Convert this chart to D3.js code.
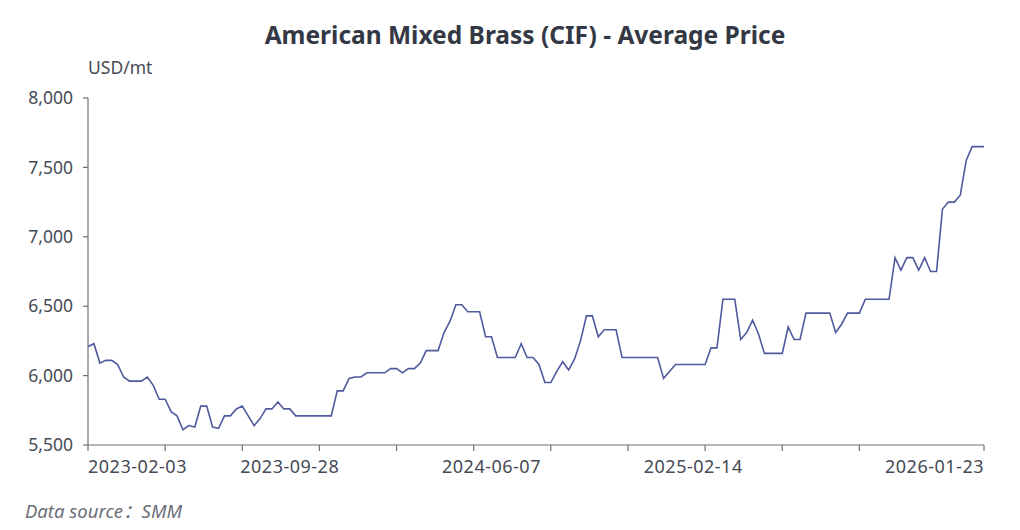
<!DOCTYPE html>
<html>
<head>
<meta charset="utf-8">
<script src="https://cdn.jsdelivr.net/npm/d3@7/dist/d3.min.js"></script>
<style>
  html, body { margin: 0; padding: 0; background: #fff; }
  svg { display: block; font-family: "Noto Sans", "Open Sans", sans-serif; }
  .title { font-size: 24.5px; font-weight: 700; fill: #333844; }
  .unit { font-size: 17.5px; fill: #464a55; }
  .tick-label { font-size: 17.5px; fill: #464a55; }
  .x-label { font-size: 18px; letter-spacing: 0.5px; fill: #464a55; }
  .source { font-size: 18.5px; font-style: italic; fill: #6c6f78; }
  .axis-line { stroke: #6e7079; stroke-width: 1.2; fill: none; }
  .price-line { stroke: #4f5a9e; stroke-width: 1.6; fill: none; }
</style>
</head>
<body>
<svg id="chart" width="1020" height="530"></svg>
<script>
(function () {
  'use strict';

  const W = 1020;
  const H = 530;
  const M = { left: 88, right: 36, top: 98, bottom: 85 };

  const TITLE = 'American Mixed Brass (CIF) - Average Price';
  const UNIT = 'USD/mt';

  // weekly quote dates (holiday weeks shifted or missing)
  const dates = [
    '2023-02-03', '2023-02-10', '2023-02-17', '2023-02-24', '2023-03-03', '2023-03-10', '2023-03-17', '2023-03-24',
    '2023-03-31', '2023-04-07', '2023-04-14', '2023-04-21', '2023-04-28', '2023-05-05', '2023-05-12', '2023-05-19',
    '2023-05-26', '2023-06-02', '2023-06-09', '2023-06-16', '2023-06-21', '2023-06-30', '2023-07-07', '2023-07-14',
    '2023-07-21', '2023-07-28', '2023-08-04', '2023-08-11', '2023-08-18', '2023-08-25', '2023-09-01', '2023-09-08',
    '2023-09-15', '2023-09-22', '2023-09-28', '2023-10-13', '2023-10-20', '2023-10-27', '2023-11-03', '2023-11-10',
    '2023-11-17', '2023-11-24', '2023-12-01', '2023-12-08', '2023-12-15', '2023-12-22', '2023-12-29', '2024-01-05',
    '2024-01-12', '2024-01-19', '2024-01-26', '2024-02-02', '2024-02-09', '2024-02-23', '2024-03-01', '2024-03-08',
    '2024-03-15', '2024-03-22', '2024-03-29', '2024-04-03', '2024-04-12', '2024-04-19', '2024-04-26', '2024-04-30',
    '2024-05-10', '2024-05-17', '2024-05-24', '2024-05-31', '2024-06-07', '2024-06-14', '2024-06-21', '2024-06-28',
    '2024-07-05', '2024-07-12', '2024-07-19', '2024-07-26', '2024-08-02', '2024-08-09', '2024-08-16', '2024-08-23',
    '2024-08-30', '2024-09-06', '2024-09-13', '2024-09-20', '2024-09-27', '2024-10-11', '2024-10-18', '2024-10-25',
    '2024-11-01', '2024-11-08', '2024-11-15', '2024-11-22', '2024-11-29', '2024-12-06', '2024-12-13', '2024-12-20',
    '2024-12-27', '2025-01-03', '2025-01-10', '2025-01-17', '2025-01-24', '2025-02-07', '2025-02-14', '2025-02-21',
    '2025-02-28', '2025-03-07', '2025-03-14', '2025-03-21', '2025-03-28', '2025-04-03', '2025-04-11', '2025-04-18',
    '2025-04-25', '2025-04-30', '2025-05-09', '2025-05-16', '2025-05-23', '2025-05-30', '2025-06-06', '2025-06-13',
    '2025-06-20', '2025-06-27', '2025-07-04', '2025-07-11', '2025-07-18', '2025-07-25', '2025-08-01', '2025-08-08',
    '2025-08-15', '2025-08-22', '2025-08-29', '2025-09-05', '2025-09-12', '2025-09-19', '2025-09-26', '2025-09-30',
    '2025-10-10', '2025-10-17', '2025-10-24', '2025-10-31', '2025-11-07', '2025-11-14', '2025-11-21', '2025-11-28',
    '2025-12-05', '2025-12-12', '2025-12-19', '2025-12-26', '2026-01-02', '2026-01-09', '2026-01-16', '2026-01-23'
  ];

  const prices = [
    6210, 6230, 6090, 6110, 6110, 6080, 5990, 5960,
    5960, 5960, 5990, 5930, 5830, 5830, 5740, 5710,
    5610, 5640, 5630, 5780, 5780, 5630, 5620, 5710,
    5710, 5760, 5780, 5710, 5640, 5690, 5760, 5760,
    5810, 5760, 5760, 5710, 5710, 5710, 5710, 5710,
    5710, 5710, 5890, 5890, 5980, 5990, 5990, 6020,
    6020, 6020, 6020, 6050, 6050, 6020, 6050, 6050,
    6090, 6180, 6180, 6180, 6310, 6390, 6510, 6510,
    6460, 6460, 6460, 6280, 6280, 6130, 6130, 6130,
    6130, 6230, 6130, 6130, 6080, 5950, 5950, 6030,
    6100, 6040, 6120, 6250, 6430, 6430, 6280, 6330,
    6330, 6330, 6130, 6130, 6130, 6130, 6130, 6130,
    6130, 5980, 6030, 6080, 6080, 6080, 6080, 6080,
    6080, 6200, 6200, 6550, 6550, 6550, 6260, 6310,
    6400, 6300, 6160, 6160, 6160, 6160, 6350, 6260,
    6260, 6450, 6450, 6450, 6450, 6450, 6310, 6370,
    6450, 6450, 6450, 6550, 6550, 6550, 6550, 6550,
    6850, 6760, 6850, 6850, 6760, 6850, 6750, 6750,
    7200, 7250, 7250, 7300, 7550, 7650, 7650, 7650
  ];

  const yTicks = [5500, 6000, 6500, 7000, 7500, 8000];
  const xLabels = ['2023-02-03', '2023-09-28', '2024-06-07', '2025-02-14', '2026-01-23'];
  const TICK_EVERY = 13;
  const LAST_TICK = 130;

  const svg = d3.select('#chart');
  const x0 = M.left;
  const x1 = W - M.right;
  const y0 = H - M.bottom;
  const y1 = M.top;

  const x = d3.scalePoint().domain(dates).range([x0, x1]);
  const y = d3.scaleLinear().domain([5500, 8000]).range([y0, y1]);

  svg.append('text')
    .attr('class', 'title')
    .attr('x', 525)
    .attr('y', 44)
    .attr('text-anchor', 'middle')
    .text(TITLE);

  svg.append('text')
    .attr('class', 'unit')
    .attr('x', x0)
    .attr('y', 74)
    .text(UNIT);

  // y axis
  const gy = svg.append('g');
  gy.append('line').attr('class', 'axis-line')
    .attr('x1', x0).attr('x2', x0).attr('y1', y1).attr('y2', y0);
  gy.selectAll('line.ytick')
    .data(yTicks)
    .join('line')
    .attr('class', 'axis-line ytick')
    .attr('x1', x0 - 5).attr('x2', x0)
    .attr('y1', d => y(d)).attr('y2', d => y(d));
  gy.selectAll('text')
    .data(yTicks)
    .join('text')
    .attr('class', 'tick-label')
    .attr('x', x0 - 15)
    .attr('y', d => y(d))
    .attr('dy', '0.35em')
    .attr('text-anchor', 'end')
    .text(d => d3.format(',')(d));

  // x axis: ticks every 13 quotes, plus the axis end
  const tickDates = dates.filter((d, i) => i % TICK_EVERY === 0 && i <= LAST_TICK);
  tickDates.push(dates[dates.length - 1]);

  const gx = svg.append('g');
  gx.append('line').attr('class', 'axis-line')
    .attr('x1', x0).attr('x2', x1).attr('y1', y0).attr('y2', y0);
  gx.selectAll('line.xtick')
    .data(tickDates)
    .join('line')
    .attr('class', 'axis-line xtick')
    .attr('x1', d => x(d)).attr('x2', d => x(d))
    .attr('y1', y0).attr('y2', y0 + 6);
  gx.selectAll('text')
    .data(xLabels)
    .join('text')
    .attr('class', 'x-label')
    .attr('x', d => x(d))
    .attr('y', y0 + 28)
    .attr('text-anchor', (d, i) => i === 0 ? 'start' : (i === xLabels.length - 1 ? 'end' : 'middle'))
    .text(d => d);

  const line = d3.line()
    .x((d, i) => x(dates[i]))
    .y(d => y(d));

  svg.append('path')
    .attr('class', 'price-line')
    .attr('d', line(prices));

  const src = svg.append('text')
    .attr('class', 'source')
    .attr('x', 25)
    .attr('y', 518);
  src.append('tspan').text('Data source');
  src.append('tspan').style('font-family', '"Noto Sans CJK SC"').text('\uFF1A');
  src.append('tspan').text('SMM');
})();
</script>
</body>
</html>
